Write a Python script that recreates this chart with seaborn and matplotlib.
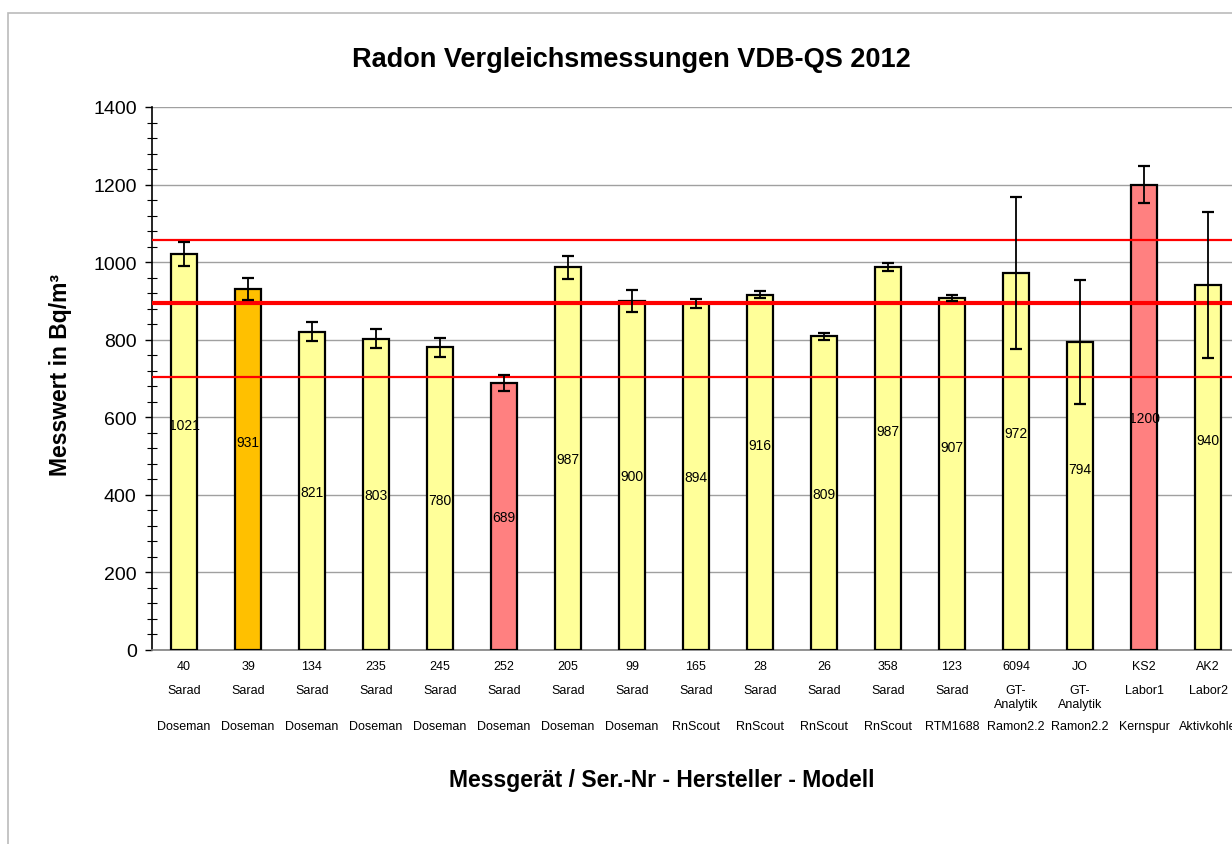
import matplotlib
matplotlib.use("Agg")
import matplotlib.pyplot as plt
from matplotlib.patches import Rectangle
from matplotlib.ticker import MultipleLocator
import numpy as np
import pandas as pd
import seaborn as sns

# Daten
ser_nr = ['40', '39', '134', '235', '245', '252', '205', '99', '165', '28',
          '26', '358', '123', '6094', 'JO', 'KS2', 'AK2']
hersteller = ['Sarad'] * 13 + ['GT-\nAnalytik', 'GT-\nAnalytik', 'Labor1', 'Labor2']
modell = ['Doseman'] * 8 + ['RnScout'] * 4 + ['RTM1688', 'Ramon2.2', 'Ramon2.2',
                                               'Kernspur', 'Aktivkohle']
messwert = [1021, 931, 821, 803, 780, 689, 987, 900, 894, 916, 809, 987, 907,
            972, 794, 1200, 940]
fehler = [31, 29, 25, 24, 24, 21, 30, 28, 11, 9, 9, 10, 8, 195, 159, 48, 188]
# Höhe der Wertbeschriftung (wie im Original verschoben)
label_hoehe = [580, 536, 407, 400, 387, 343, 492, 449, 447, 528, 403, 565, 523,
               559, 467, 598, 541]
farben = ['#FFFF99', '#FFC000', '#FFFF99', '#FFFF99', '#FFFF99', '#FF8080',
          '#FFFF99', '#FFFF99', '#FFFF99', '#FFFF99', '#FFFF99', '#FFFF99',
          '#FFFF99', '#FFFF99', '#FFFF99', '#FF8080', '#FFFF99']
# Referenzlinien: Mittelwert und Grenzen
mittelwert = 895
grenzen = [1058, 705]

df = pd.DataFrame({'nr': ser_nr, 'wert': messwert})

sns.set_style('white')
plt.rcParams['font.family'] = ['Liberation Sans', 'DejaVu Sans']
plt.rcParams['text.color'] = 'black'
plt.rcParams['xtick.color'] = 'black'
plt.rcParams['ytick.color'] = 'black'
plt.rcParams['axes.labelcolor'] = 'black'

fig = plt.figure(figsize=(12.32, 8.45), dpi=100)
ax = fig.add_axes([152 / 1232, 1 - 651 / 845, 1088 / 1232, 543 / 845])

# Rahmen um das Diagramm
fig.patches.append(Rectangle((8 / 1232, -0.1), 1.2, 0.1 + 1 - 14 / 845,
                             transform=fig.transFigure, fill=False,
                             edgecolor='#BBBBBB', linewidth=1.2, zorder=0))

sns.barplot(data=df, x='nr', y='wert', hue='nr', palette=farben, legend=False,
            width=0.4, edgecolor='black', linewidth=1.6, errorbar=None,
            saturation=1, ax=ax, zorder=3)

x = np.arange(len(messwert))
ax.errorbar(x, messwert, yerr=fehler, fmt='none', ecolor='black',
            elinewidth=1.3, capsize=4, capthick=1.6, zorder=5)

for xi, h, v in zip(x, label_hoehe, messwert):
    ax.text(xi, h, str(v), ha='center', va='center', fontsize=10, zorder=6)

for g in grenzen:
    ax.axhline(g, color='#FF0000', linewidth=1.6, zorder=4)
ax.axhline(mittelwert, color='#FF0000', linewidth=3, zorder=4)

ax.set_ylim(0, 1400)
ax.set_xlim(-0.5, len(messwert) - 0.5)
ax.yaxis.set_major_locator(MultipleLocator(200))
ax.yaxis.set_minor_locator(MultipleLocator(40))
ax.grid(axis='y', color='#A0A0A0', linewidth=1, zorder=0)
ax.tick_params(axis='y', which='major', labelsize=14, length=5, width=1,
               direction='out', left=True, pad=6)
ax.tick_params(axis='y', which='minor', length=7, width=0.8, direction='inout', left=True)

ax.set_xticks(x)
ax.set_xticklabels([])
ax.tick_params(axis='x', length=0)
for xi, a, b, c in zip(x, ser_nr, hersteller, modell):
    ax.annotate(a, (xi, 0), xytext=(0, -11.5), textcoords='offset points',
                ha='center', va='center', fontsize=9)
    ax.annotate(b, (xi, 0), xytext=(0, -24.5), textcoords='offset points',
                ha='center', va='top', fontsize=9, linespacing=1.2)
    ax.annotate(c, (xi, 0), xytext=(0, -55), textcoords='offset points',
                ha='center', va='center', fontsize=9)

for s in ['top', 'right']:
    ax.spines[s].set_visible(False)
ax.spines['left'].set_color('black')
ax.spines['left'].set_linewidth(1.2)
ax.spines['bottom'].set_color('#808080')
ax.spines['bottom'].set_linewidth(1.2)
ax.set_xlabel('')
ax.set_ylabel('')

fig.text(631 / 1232, 1 - 60 / 845, 'Radon Vergleichsmessungen VDB-QS 2012',
         ha='center', va='center', fontsize=19.5, fontweight='bold')
fig.text(662 / 1232, 1 - 780 / 845, 'Messgerät / Ser.-Nr - Hersteller - Modell',
         ha='center', va='center', fontsize=16.5, fontweight='bold')
fig.text(60 / 1232, 1 - 375 / 845, 'Messwert in Bq/m³', rotation=90,
         ha='center', va='center', fontsize=16.5, fontweight='bold')

fig.savefig('out.png', dpi=100)
